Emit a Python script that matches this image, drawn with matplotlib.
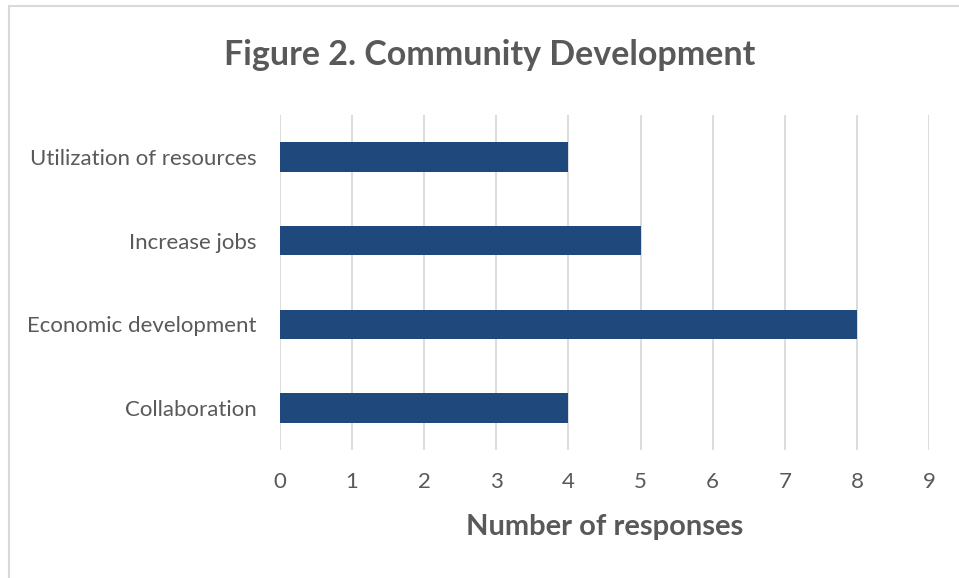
import matplotlib
matplotlib.use('Agg')
import matplotlib.pyplot as plt
from matplotlib.lines import Line2D

# Survey counts per answer (bottom to top)
categories = ['Collaboration', 'Economic development', 'Increase jobs', 'Utilization of resources']
responses = [4, 8, 5, 4]
x_ticks = list(range(0, 10))

text_color = '#595959'
bar_color = '#1F497D'
grid_color = '#D9D9D9'

plt.rcParams['font.family'] = ['Lato', 'DejaVu Sans']

fig = plt.figure(figsize=(9.59, 5.78), dpi=100)
ax = fig.add_axes([280 / 959, 1 - 450 / 578, (929 - 280) / 959, (450 - 115) / 578])

ax.barh(range(len(categories)), responses, height=0.35, color=bar_color, zorder=3)

ax.set_xlim(0, 9)
ax.set_ylim(-0.5, len(categories) - 0.5)
ax.set_xticks(x_ticks)
ax.set_yticks(range(len(categories)))
ax.set_yticklabels(categories)
ax.grid(axis='x', color=grid_color, linewidth=1.3, zorder=0)
for s in ax.spines.values():
    s.set_visible(False)
ax.tick_params(axis='both', length=0, labelsize=16, colors=text_color)
ax.tick_params(axis='x', pad=16)
ax.tick_params(axis='y', pad=17)

ax.set_xlabel('Number of responses', fontsize=21, fontweight='bold', color=text_color, labelpad=16)

fig.text(490 / 959, 1 - 55 / 578, 'Figure 2. Community Development', ha='center', va='center',
         fontsize=24.5, fontweight='bold', color=text_color)

# chart frame (top and left edges)
fig.add_artist(Line2D([9 / 959, 1], [1 - 6 / 578, 1 - 6 / 578], color=grid_color, linewidth=1.5))
fig.add_artist(Line2D([9 / 959, 9 / 959], [0, 1 - 6 / 578], color=grid_color, linewidth=1.5))

fig.savefig('out.png', dpi=100)
